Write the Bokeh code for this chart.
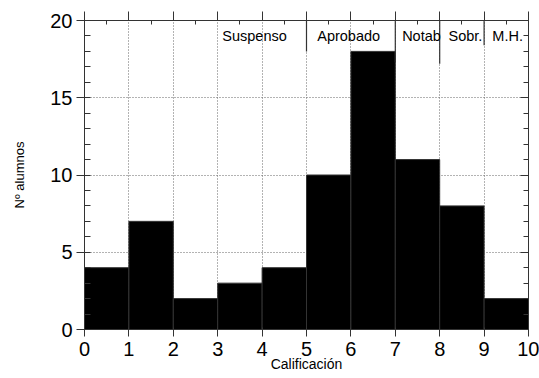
from bokeh.plotting import figure
from bokeh.models import LinearAxis, FixedTicker, Range1d, ColumnDataSource, CustomLabelingPolicy
from bokeh.core.properties import value
from bokeh.embed import file_html
from bokeh.resources import INLINE

# Data
grade_left = [0, 1, 2, 3, 4, 5, 6, 7, 8, 9]
grade_right = [1, 2, 3, 4, 5, 6, 7, 8, 9, 10]
counts = [4, 7, 2, 3, 4, 10, 18, 11, 8, 2]

cat_labels = ["Suspenso", "Aprobado", "Notab", "Sobr.", "M.H."]
cat_label_x = [3.83, 5.95, 7.59, 8.58, 9.53]
cat_label_y = [19.0, 19.0, 19.0, 19.0, 19.0]
sep_x = [5, 7, 8, 9]
sep_bottom = [18.0, 17.3, 17.2, 18.4]
sep_top = [20, 20, 20, 20]

x_ticks = [0, 1, 2, 3, 4, 5, 6, 7, 8, 9, 10]
x_minor = [0.5, 1.5, 2.5, 3.5, 4.5, 5.5, 6.5, 7.5, 8.5, 9.5]
y_ticks = [0, 5, 10, 15, 20]
y_minor = list(range(0, 21))

FONT = "Liberation Sans"
INK = "#333333"

p = figure(width=539, height=378, output_backend="svg", toolbar_location=None,
           x_range=Range1d(0, 10), y_range=Range1d(0, 20),
           min_border_left=84, min_border_right=11, min_border_top=20, min_border_bottom=49,
           x_axis_label="Calificación", y_axis_label="Nº alumnos")
p.outline_line_color = None
p.background_fill_color = "white"

src = ColumnDataSource(dict(left=grade_left, right=grade_right, top=counts, bottom=[0]*len(counts)))
p.quad(left="left", right="right", top="top", bottom="bottom", source=src,
       fill_color="black", line_color=INK, line_width=1)

# separators and category labels
p.segment(x0=sep_x, x1=sep_x, y0=sep_bottom, y1=sep_top, line_color=INK, line_width=1.2)
p.text(x=cat_label_x, y=cat_label_y, text=cat_labels, text_align="center", text_baseline="middle",
       text_font=value(FONT), text_font_size="14.5px", text_color="black")

# grid
p.xgrid.ticker = FixedTicker(ticks=x_ticks)
p.ygrid.ticker = FixedTicker(ticks=y_ticks)
for g in (p.xgrid, p.ygrid):
    g.grid_line_color = "#666666"
    g.grid_line_dash = "1 2"
    g.grid_line_width = 1

xa = p.xaxis[0]
xa.ticker = FixedTicker(ticks=x_ticks)
xa.major_tick_out = 7
xa.major_tick_in = 2
xa.minor_tick_out = 0
xa.minor_tick_in = 0
ya = p.yaxis[0]
ya.ticker = FixedTicker(ticks=y_ticks, minor_ticks=y_minor)
ya.major_tick_out = 8
ya.major_tick_in = 5
ya.minor_tick_in = 6
ya.minor_tick_out = 0

for ax in (xa, ya):
    ax.axis_line_color = INK
    ax.major_tick_line_color = INK
    ax.minor_tick_line_color = INK
    ax.major_label_text_font = FONT
    ax.major_label_text_font_size = "20px"
    ax.major_label_text_color = "black"
    ax.axis_label_text_font = FONT
    ax.axis_label_text_font_style = "normal"
    ax.axis_label_text_color = "black"
xa.axis_label_text_font_size = "14px"
ya.axis_label_text_font_size = "13px"
xa.major_label_standoff = 5
xa.axis_label_standoff = -3
ya.major_label_standoff = 4
ya.axis_label_standoff = 20

hide = "const r = indices.clone(); for (const i of [...indices.ones()]) r.unset(i); return r;"

# top axis (ticks only)
top = LinearAxis(ticker=FixedTicker(ticks=x_ticks, minor_ticks=x_minor),
                 major_label_policy=CustomLabelingPolicy(code=hide),
                 major_label_text_font_size="1px", major_label_standoff=0,
                 major_tick_out=9, major_tick_in=0,
                 minor_tick_out=0, minor_tick_in=4, axis_line_color=INK,
                 major_tick_line_color=INK, minor_tick_line_color=INK)
p.add_layout(top, "above")
# right axis (ticks only)
right = LinearAxis(ticker=FixedTicker(ticks=y_ticks, minor_ticks=y_minor),
                   major_label_policy=CustomLabelingPolicy(code=hide),
                   major_label_text_font_size="1px", major_label_standoff=0,
                   major_tick_out=0, major_tick_in=8,
                   minor_tick_out=0, minor_tick_in=5, axis_line_color=INK,
                   major_tick_line_color=INK, minor_tick_line_color=INK)
p.add_layout(right, "right")

open("out.html", "w").write(file_html(p, INLINE))
